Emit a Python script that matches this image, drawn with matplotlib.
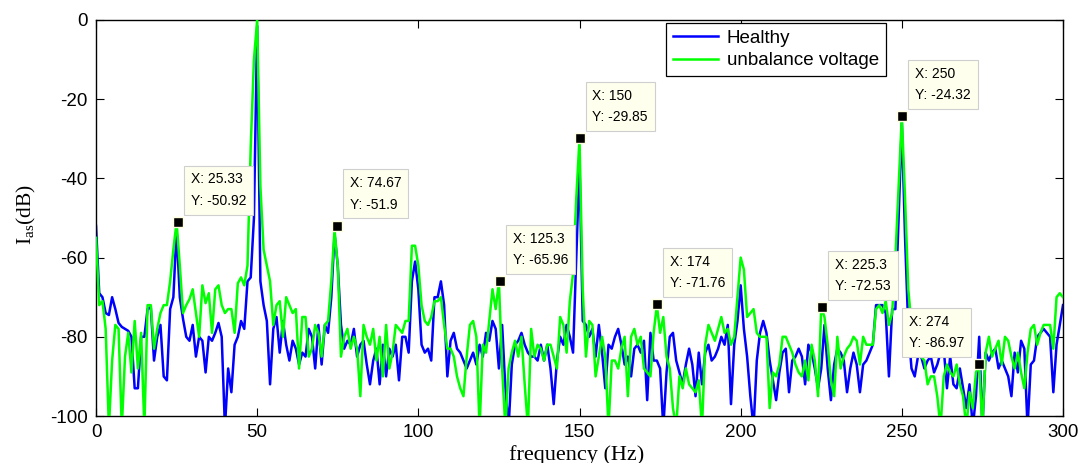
import matplotlib
matplotlib.use('Agg')
import matplotlib.pyplot as plt
import numpy as np

# frequency axis, 1 Hz bins 0..300
freq = np.arange(0, 301)

healthy = [
    -52, -69, -70, -74, -74.5, -70, -73, -76.5, -77.5, -78,
    -78.5, -80, -93, -93, -80, -80, -73, -72.5, -86, -80,
    -77, -90, -91, -73, -70, -53, -70, -75.5, -80, -81,
    -77, -85, -80, -81, -89, -80, -81, -79, -76.5, -80,
    -103, -88, -94, -82, -80, -76, -78, -66, -65, -50,
    -1.5,
    -66, -72, -76, -92, -78, -75, -84, -76, -82,
    -86, -81, -83, -87, -84, -85, -78, -80, -88, -77,
    -87, -77, -79, -70, -54, -62, -77, -83, -81, -82,
    -78, -85, -82, -81, -87, -92, -86, -83, -92, -82,
    -90, -83, -85, -82, -91, -80, -80, -84, -66, -61,
    -68, -82, -84, -83, -86, -70, -70, -66, -72, -90,
    -81, -79, -83, -84, -86, -88, -86, -84, -87, -82,
    -85, -79, -81, -76, -78, -88, -77, -93, -103, -87,
    -82, -81, -79, -82, -84, -85, -85, -86, -82, -86,
    -82, -88, -97, -86, -80, -82, -77, -80, -84, -60,
    -36,
    -76, -77, -80, -78, -85, -77, -84, -93, -82,
    -83, -80, -78, -82, -87, -85, -90, -83, -82, -84,
    -81, -96, -79, -86, -86, -88, -103, -89, -80, -79,
    -86, -89, -92, -87, -83, -87, -95, -84, -92, -84,
    -82, -86, -85, -83, -80, -82, -77, -97, -82, -76,
    -67, -78, -85, -95, -103, -86, -79, -76, -79, -86,
    -91, -96, -89, -84, -83, -94, -86, -85, -83, -85,
    -92, -82, -84, -88, -93, -88, -77, -88, -96, -87,
    -83, -84, -86, -94, -88, -84, -87, -94, -87, -86,
    -84, -82, -72, -72, -72, -74, -90, -73, -73, -50,
    -26,
    -55, -78, -88, -90, -85, -85, -88, -86, -85,
    -89, -87, -84, -83, -93, -85, -92, -93, -88, -93,
    -98, -92, -103, -95, -80, -103, -84, -86, -84, -83,
    -88, -86, -88, -90, -95, -84, -89, -81, -83, -103,
    -87, -86, -80, -79, -78, -79, -80, -94, -82, -77,
    -72,
]

unbalance = [
    -55, -72, -71, -78, -103, -86, -77, -78, -103, -85,
    -79, -89, -76, -88, -79, -103, -72, -72, -83, -78,
    -74, -72, -72, -66, -58, -51, -62, -74, -72, -70.5,
    -68, -74, -80, -67, -71.5, -69, -79, -68, -67, -72,
    -74, -73, -73, -79, -66.5, -65, -67, -62, -32, -10,
    0,
    -42, -58, -62, -66, -77, -72, -71, -80, -70,
    -72, -74, -73, -88, -75, -75, -85, -83, -77, -79,
    -85, -77, -76, -66, -53, -62, -85, -80, -78, -83,
    -80, -83, -95, -77, -80, -82, -78, -86, -80, -90,
    -77, -88, -84, -77, -78, -79, -76, -76, -57, -57,
    -62, -72, -76, -77, -75, -71, -71, -70, -77, -83,
    -83, -85, -90, -93, -95, -85, -77, -76, -80, -103,
    -82, -84, -76, -68, -73, -66, -88, -103, -88, -84,
    -81, -85, -80, -92, -103, -78, -85, -82, -83, -86,
    -82, -82, -85, -88, -75, -77, -84, -71, -64, -45,
    -30,
    -68, -85, -76, -77, -90, -85, -80, -85, -103,
    -86, -86, -88, -83, -80, -95, -80, -78, -82, -80,
    -88, -89, -90, -79, -72, -79, -75, -85, -88, -98,
    -103, -90, -93, -88, -92, -93, -94, -91, -103, -82,
    -77, -79, -81, -78, -75, -79, -78, -82, -80, -70,
    -60, -63, -75, -74, -73, -79, -80, -80, -80, -98,
    -89, -90, -87, -80, -80, -82, -84, -87, -89, -90,
    -86, -91, -82, -86, -95, -72.5, -75, -82, -91, -95,
    -80, -88, -85, -83, -82, -80, -81, -87, -80, -82,
    -82, -82, -73, -72, -74, -71, -77, -74, -60, -42,
    -24.3,
    -45, -68, -77, -83, -82, -85, -86, -92, -90,
    -90, -95, -103, -90, -87, -89, -90, -87, -92, -95,
    -103, -94, -98, -89, -87, -103, -84, -80, -85, -83,
    -81, -87, -80, -81, -85, -88, -84, -89, -93, -84,
    -78, -77, -82, -79, -77, -77, -77, -83, -70, -69,
    -70,
]

# data tips (x, y) and which side the box goes
tip_x = [25.33, 74.67, 125.3, 150, 174, 225.3, 250, 274]
tip_y = [-50.92, -51.9, -65.96, -29.85, -71.76, -72.53, -24.32, -86.97]
tip_txt = ['25.33', '74.67', '125.3', '150', '174', '225.3', '250', '274']
tip_left = [False, False, False, False, False, False, False, True]

sans = ['Liberation Sans', 'DejaVu Sans']
serif = ['Liberation Serif', 'DejaVu Serif']
plt.rcParams['font.family'] = sans
plt.rcParams['axes.unicode_minus'] = False
plt.rcParams['mathtext.fontset'] = 'custom'
plt.rcParams['mathtext.rm'] = 'Liberation Serif'
plt.rcParams['mathtext.it'] = 'Liberation Serif:italic'

fig = plt.figure(figsize=(10.85, 4.63), dpi=100)
ax = fig.add_axes([96/1085, 1-416/463, (1063-96)/1085, (416-20)/463])

ax.plot(freq, healthy, color=(0, 0, 1), lw=1.8, label='Healthy', zorder=2)
ax.plot(freq, unbalance, color=(0, 1, 0), lw=1.8, label='unbalance voltage', zorder=3)

ax.set_xlim(0, 300)
ax.set_ylim(-100, 0)
ax.set_xticks(np.arange(0, 301, 50))
ax.set_yticks(np.arange(-100, 1, 20))
ax.tick_params(direction='in', length=6, width=0.8, labelsize=13.5, pad=6,
               top=True, right=True)
for s in ax.spines.values():
    s.set_linewidth(1.0)

for x, y, t, left in zip(tip_x, tip_y, tip_txt, tip_left):
    ax.plot(x, y, 's', ms=7.5, mfc='black', mec='#FFFFE0', mew=1.0, zorder=6, clip_on=False)
    if left:
        off, ha = (-15, 14), 'right'
    else:
        off, ha = (13, 14), 'left'
    ax.annotate('X: %s\nY: %s' % (t, '%g' % y), xy=(x, y), xytext=off,
                textcoords='offset pixels', ha=ha, va='bottom', fontsize=10,
                multialignment='left', linespacing=1.65, zorder=7,
                annotation_clip=False,
                bbox=dict(boxstyle='square,pad=0.5', fc='#FFFFEE', ec='#CFCFCF', lw=0.8))

leg = ax.legend(loc='upper left', bbox_to_anchor=(666/1085, 1-23/463),
                bbox_transform=fig.transFigure, borderaxespad=0, fontsize=13.5,
                fancybox=False, edgecolor='black', framealpha=1,
                handlelength=2.4, handletextpad=0.5, borderpad=0.35, labelspacing=0.3)
leg.get_frame().set_linewidth(0.9)
leg.set_zorder(8)

fig.text(577/1085, 1-460/463, 'frequency (Hz)', family=serif, fontsize=16,
         ha='center', va='baseline')
fig.text(26/1085, 1-215/463, r'$\mathrm{I_{as}}$(dB)', family=serif, fontsize=15.5,
         rotation=90, ha='center', va='center')

fig.savefig('out.png', dpi=100)
